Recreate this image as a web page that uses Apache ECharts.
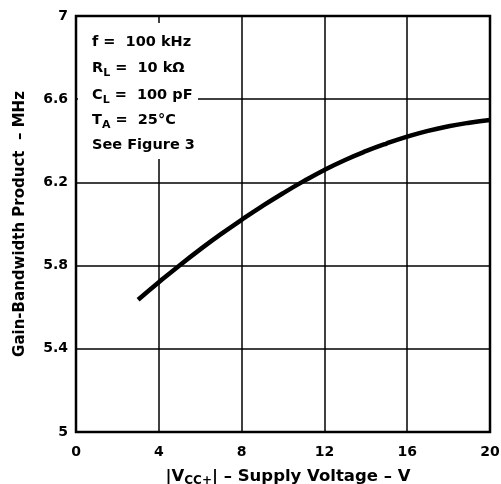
<!DOCTYPE html>
<html>
<head>
<meta charset="utf-8">
<script src="https://cdn.jsdelivr.net/npm/echarts@6/dist/echarts.min.js"></script>
<style>
  html, body { margin: 0; padding: 0; background: #fff; }
  #chart { width: 501px; height: 484px; }
</style>
</head>
<body>
<div id="chart"></div>
<script>
// supply voltage |VCC+| (V)
const supplyVoltage = [3, 4, 5, 6, 7, 8, 9, 10, 11, 12, 13, 14, 15, 16, 17, 18, 19, 20];
// gain-bandwidth product (MHz)
const gainBandwidth = [5.636, 5.72, 5.801, 5.878, 5.951, 6.02, 6.086, 6.148, 6.206, 6.26, 6.308, 6.35, 6.387, 6.42, 6.448, 6.47, 6.487, 6.5];

const xTicks = [0, 4, 8, 12, 16, 20];
const yTicks = [5, 5.4, 5.8, 6.2, 6.6, 7];

// test conditions box
const conditions = [
  '{n|f =  100 kHz}',
  '{n|R}{s|L}{n| =  10 kΩ}',
  '{n|C}{s|L}{n| =  100 pF}',
  '{n|T}{s|A}{n| =  25°C}',
  '{n|See Figure 3}'
];
const conditionTops = [35, 61, 88, 113, 138];

const FONT = '"DejaVu Sans", "Liberation Sans", sans-serif';

const chart = echarts.init(document.getElementById('chart'), null, { renderer: 'canvas' });

const norm = { fontSize: 14.5, fontWeight: 'bold', fontFamily: FONT, color: '#000' };
const sub = { fontSize: 11, fontWeight: 'bold', fontFamily: FONT, color: '#000', padding: [9, 0, 0, 0] };

const graphic = [
  {
    type: 'rect', z: 50,
    shape: { x: 78, y: 23, width: 120, height: 136 },
    style: { fill: '#fff' }
  }
];
conditions.forEach((t, i) => {
  graphic.push({
    type: 'text', z: 51, left: 92, top: conditionTops[i],
    style: { text: t, rich: { n: norm, s: sub } }
  });
});

const option = {
  backgroundColor: '#fff',
  animation: false,
  grid: {
    left: 76, right: 11, top: 16, bottom: 52,
    outerBoundsMode: 'none',
    show: true, borderColor: '#000', borderWidth: 2.5
  },
  xAxis: {
    type: 'value',
    min: 0, max: 20, interval: 4,
    axisLine: { show: false },
    axisTick: { show: false },
    splitLine: { show: true, lineStyle: { color: '#000', width: 1.5 } },
    axisLabel: {
      color: '#000', fontSize: 14, fontWeight: 'bold', fontFamily: FONT, margin: 13,
      formatter: v => xTicks.includes(v) ? String(v) : ''
    },
    name: '{n||V}{s|CC+}{n|| – Supply Voltage – V}',
    nameLocation: 'middle',
    nameGap: 35,
    nameTextStyle: {
      padding: [0, 0, 0, 10],
      rich: {
        n: { fontSize: 16.5, fontWeight: 'bold', fontFamily: FONT, color: '#000' },
        s: { fontSize: 12, fontWeight: 'bold', fontFamily: FONT, color: '#000', padding: [8, 0, 0, 0] }
      }
    }
  },
  yAxis: {
    type: 'value',
    min: 5, max: 7, interval: 0.4,
    axisLine: { show: false },
    axisTick: { show: false },
    splitLine: { show: true, lineStyle: { color: '#000', width: 1.5 } },
    axisLabel: {
      color: '#000', fontSize: 14, fontWeight: 'bold', fontFamily: FONT, margin: 8,
      formatter: v => {
        const t = yTicks.find(y => Math.abs(y - v) < 1e-6);
        return t === undefined ? '' : String(t);
      }
    },
    name: 'Gain-Bandwidth Product  – MHz',
    nameLocation: 'middle',
    nameRotate: 90,
    nameGap: 48,
    nameTextStyle: { color: '#000', fontSize: 15, fontWeight: 'bold', fontFamily: FONT }
  },
  graphic: graphic,
  series: [
    {
      type: 'line',
      data: supplyVoltage.map((v, i) => [v, gainBandwidth[i]]),
      smooth: true,
      showSymbol: false,
      lineStyle: { color: '#000', width: 4.5 },
      z: 60
    }
  ]
};

chart.setOption(option);
</script>
</body>
</html>
